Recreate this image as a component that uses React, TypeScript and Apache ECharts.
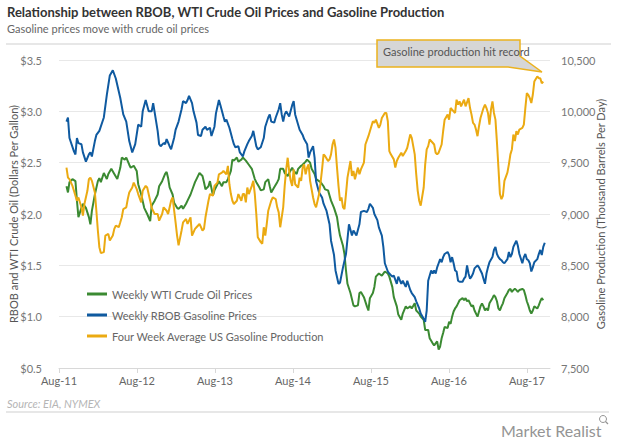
import React, { useEffect, useRef } from "react";
import * as echarts from "echarts";

// x = weeks since August 2011
const tickLabels = ["Aug-11", "Aug-12", "Aug-13", "Aug-14", "Aug-15", "Aug-16", "Aug-17"];
const weeksPerYear = 52.18;

const wtiPoints: [number, number][] = [[5,2.27],[6,2.21],[7,2.31],[9,2.34],[11,2.32],[12,2.13],[13,1.97],[15,2.06],[16,2.10],[18,2.06],[20,1.97],[21,1.90],[22,2.03],[24,2.19],[26,2.32],[27,2.35],[28,2.31],[30,2.40],[32,2.34],[33,2.39],[35,2.44],[37,2.39],[39,2.34],[41,2.45],[42,2.55],[44,2.53],[45,2.55],[47,2.48],[48,2.45],[50,2.47],[52,2.42],[53,2.29],[55,2.19],[57,2.06],[59,2.00],[61,1.93],[62,2.08],[64,2.13],[66,2.19],[67,2.27],[69,2.32],[71,2.39],[72,2.41],[73,2.35],[74,2.26],[76,2.19],[77,2.11],[79,2.06],[80,2.05],[82,2.08],[83,2.05],[85,2.10],[86,2.13],[88,2.19],[90,2.27],[91,2.31],[92,2.34],[94,2.40],[96,2.37],[97,2.31],[98,2.24],[100,2.27],[101,2.32],[103,2.18],[104,2.23],[106,2.29],[107,2.32],[109,2.27],[110,2.31],[112,2.31],[113,2.34],[115,2.42],[116,2.53],[117,2.52],[119,2.55],[120,2.51],[122,2.53],[123,2.55],[125,2.52],[127,2.48],[129,2.44],[131,2.34],[132,2.31],[134,2.26],[135,2.23],[137,2.24],[138,2.31],[140,2.34],[141,2.27],[142,2.21],[144,2.26],[146,2.31],[147,2.34],[148,2.44],[150,2.44],[151,2.40],[153,2.37],[154,2.40],[156,2.45],[157,2.42],[159,2.39],[160,2.44],[162,2.47],[163,2.48],[165,2.51],[166,2.53],[168,2.50],[169,2.44],[171,2.39],[172,2.34],[174,2.32],[175,2.31],[177,2.27],[178,2.24],[180,2.23],[181,2.18],[182,2.13],[184,2.06],[186,1.97],[187,1.87],[188,1.79],[190,1.69],[191,1.61],[192,1.45],[193,1.32],[195,1.23],[197,1.11],[198,1.10],[200,1.11],[201,1.23],[202,1.24],[204,1.19],[206,1.10],[207,1.06],[208,1.18],[210,1.23],[211,1.29],[212,1.39],[214,1.42],[216,1.40],[217,1.42],[218,1.44],[220,1.42],[221,1.39],[223,1.29],[224,1.19],[226,1.10],[227,1.02],[229,0.97],[230,1.03],[232,1.10],[233,1.08],[235,1.10],[236,1.08],[238,1.13],[239,1.06],[241,1.03],[242,1.00],[244,0.97],[245,0.87],[247,0.87],[248,0.79],[250,0.74],[251,0.72],[253,0.76],[254,0.68],[255,0.71],[256,0.79],[257,0.84],[258,0.90],[260,0.89],[261,0.95],[262,0.93],[263,1.00],[264,1.05],[265,1.08],[266,1.10],[267,1.13],[268,1.16],[270,1.18],[271,1.16],[272,1.18],[273,1.15],[274,1.16],[275,1.13],[276,1.10],[277,1.11],[278,1.06],[280,1.00],[281,1.05],[282,1.10],[283,1.13],[284,1.10],[285,1.06],[286,1.08],[287,1.06],[288,1.13],[290,1.18],[291,1.21],[292,1.19],[293,1.15],[294,1.08],[295,1.06],[296,1.10],[297,1.13],[298,1.18],[300,1.23],[301,1.26],[302,1.27],[303,1.24],[304,1.26],[305,1.27],[306,1.26],[307,1.24],[308,1.26],[310,1.27],[311,1.26],[312,1.21],[313,1.15],[314,1.11],[315,1.06],[316,1.03],[317,1.06],[318,1.10],[320,1.08],[321,1.11],[322,1.15],[323,1.18],[324,1.16]];

const rbobPoints: [number, number][] = [[5,2.90],[6,2.94],[7,2.74],[10,2.61],[11,2.58],[12,2.74],[13,2.69],[15,2.68],[16,2.60],[18,2.51],[20,2.58],[21,2.60],[22,2.56],[24,2.71],[25,2.77],[27,2.81],[30,2.94],[32,3.16],[34,3.35],[36,3.40],[38,3.32],[41,3.13],[43,2.97],[45,2.90],[47,2.71],[49,2.60],[51,2.68],[53,2.87],[55,2.85],[56,3.00],[58,3.11],[60,3.00],[62,3.00],[63,3.08],[65,2.90],[66,2.81],[67,2.68],[68,2.66],[70,2.69],[71,2.68],[72,2.73],[74,2.66],[75,2.63],[77,2.74],[78,2.82],[80,2.90],[82,3.02],[83,3.10],[85,3.08],[86,3.11],[87,3.15],[89,3.08],[90,3.00],[92,2.89],[93,2.77],[95,2.76],[96,2.82],[98,2.85],[99,2.82],[101,2.84],[102,2.76],[104,2.85],[105,2.98],[107,3.11],[108,3.06],[110,2.95],[111,2.90],[112,2.92],[114,2.84],[116,2.73],[117,2.68],[118,2.65],[120,2.66],[121,2.60],[123,2.56],[124,2.61],[126,2.68],[127,2.71],[129,2.76],[130,2.81],[132,2.66],[133,2.63],[135,2.65],[137,2.74],[138,2.85],[140,2.94],[141,2.97],[142,2.90],[144,2.89],[145,2.94],[147,3.02],[148,3.08],[149,2.97],[150,2.90],[151,2.97],[152,3.00],[154,2.95],[156,3.06],[157,3.10],[158,2.97],[160,2.87],[161,2.82],[163,2.77],[164,2.73],[166,2.68],[167,2.55],[168,2.60],[170,2.66],[171,2.55],[172,2.32],[174,2.21],[176,2.16],[177,2.10],[179,2.03],[181,1.90],[182,1.74],[184,1.60],[185,1.45],[187,1.32],[188,1.33],[190,1.48],[192,1.61],[194,1.90],[196,1.79],[197,1.84],[199,1.79],[201,1.90],[202,2.02],[204,2.03],[206,2.02],[207,2.05],[208,2.10],[210,2.06],[211,2.00],[213,1.94],[214,1.87],[216,1.79],[217,1.68],[218,1.52],[220,1.44],[221,1.42],[223,1.39],[224,1.40],[226,1.32],[227,1.39],[229,1.32],[230,1.35],[232,1.29],[233,1.35],[235,1.26],[236,1.23],[238,1.19],[239,1.15],[241,1.08],[242,1.03],[244,0.98],[245,0.95],[246,1.06],[247,1.35],[249,1.45],[250,1.42],[251,1.45],[252,1.42],[253,1.48],[254,1.52],[255,1.56],[256,1.53],[257,1.58],[258,1.61],[260,1.63],[261,1.60],[262,1.53],[263,1.58],[264,1.52],[265,1.45],[266,1.44],[267,1.35],[268,1.34],[270,1.34],[271,1.37],[272,1.39],[273,1.50],[274,1.42],[275,1.37],[276,1.39],[277,1.42],[278,1.47],[280,1.50],[281,1.48],[282,1.45],[283,1.42],[284,1.37],[285,1.32],[286,1.42],[287,1.48],[288,1.53],[290,1.58],[291,1.65],[292,1.68],[293,1.61],[294,1.58],[295,1.56],[296,1.55],[297,1.53],[298,1.52],[300,1.56],[301,1.63],[302,1.58],[303,1.61],[304,1.68],[305,1.71],[306,1.74],[307,1.69],[308,1.61],[310,1.52],[311,1.58],[312,1.61],[313,1.56],[314,1.55],[315,1.52],[316,1.44],[317,1.48],[318,1.53],[320,1.56],[321,1.61],[322,1.65],[323,1.60],[324,1.68],[325,1.72]];

const productionPoints: [number, number][] = [[5,9452],[6,9355],[7,9339],[9,9274],[10,9226],[12,9129],[13,9161],[15,9065],[16,8984],[17,9097],[19,9226],[20,9339],[21,9355],[22,9323],[24,9210],[25,9032],[26,8839],[27,8677],[28,8619],[30,8629],[31,8790],[33,8806],[34,8742],[36,8790],[37,8855],[38,8887],[40,8871],[41,8919],[42,8968],[43,9048],[45,9065],[46,9145],[47,9210],[49,9258],[50,9306],[52,9242],[53,9194],[55,9113],[56,9226],[58,9274],[59,9258],[61,9130],[62,9060],[64,9000],[66,9000],[67,8935],[69,9000],[70,9065],[72,9032],[73,9000],[75,9129],[76,9161],[78,8919],[79,8790],[80,8694],[82,8839],[83,8919],[85,8952],[86,8903],[88,8968],[89,8790],[91,8855],[92,8871],[94,8903],[96,8839],[97,8855],[98,8968],[100,9129],[101,9194],[103,9178],[104,9274],[106,9306],[107,9387],[109,9403],[110,9419],[112,9387],[113,9468],[114,9290],[115,9194],[116,9129],[117,9097],[119,9129],[120,9194],[122,9129],[123,9194],[124,9194],[125,9113],[126,9258],[127,9194],[129,9274],[130,9323],[131,9194],[132,9000],[133,8774],[135,8726],[136,8710],[137,8871],[138,8790],[139,8903],[140,9032],[142,9129],[143,9161],[145,9145],[146,9065],[147,9016],[148,8871],[150,9065],[151,9274],[152,9435],[153,9548],[154,9419],[155,9323],[156,9274],[157,9435],[158,9290],[160,9258],[161,9355],[162,9323],[163,9452],[164,9484],[165,9387],[166,9452],[167,9484],[168,9323],[170,9161],[171,9097],[172,9065],[173,9129],[174,9194],[175,9306],[176,9435],[177,9581],[178,9565],[180,9516],[181,9532],[182,9581],[183,9677],[184,9726],[185,9645],[186,9452],[187,9274],[188,9129],[189,9161],[190,9065],[191,9048],[192,9194],[193,9355],[195,9516],[196,9371],[197,9419],[198,9339],[200,9452],[201,9387],[202,9435],[204,9500],[205,9677],[207,9758],[208,9806],[210,9903],[211,9887],[212,9919],[214,9839],[215,9871],[216,9935],[218,9984],[219,9984],[220,9903],[221,9613],[222,9581],[224,9532],[225,9452],[226,9516],[227,9548],[229,9597],[230,9565],[232,9613],[233,9645],[235,9774],[236,9742],[238,9581],[239,9387],[240,9226],[241,9129],[242,9081],[244,9258],[245,9484],[246,9629],[247,9661],[248,9726],[250,9694],[251,9677],[252,9597],[253,9581],[254,9597],[256,9677],[257,9806],[258,9919],[260,9968],[261,9919],[262,10032],[264,10000],[265,9984],[266,10113],[267,10065],[268,10097],[269,10048],[270,10081],[271,10113],[272,10048],[274,10129],[275,10032],[276,9968],[277,9887],[278,9871],[279,9823],[280,9758],[281,9855],[282,9935],[284,10032],[285,10065],[286,10032],[287,9984],[288,9871],[289,10016],[290,10097],[291,9984],[292,9919],[293,9700],[294,9450],[295,9194],[296,9145],[297,9178],[298,9323],[300,9403],[301,9484],[302,9581],[303,9629],[304,9774],[305,9710],[306,9806],[307,9774],[308,9823],[310,9839],[311,9871],[312,10032],[313,10177],[314,10161],[315,10129],[316,10081],[317,10161],[318,10290],[320,10339],[321,10323],[322,10323],[323,10274],[324,10290]];

const seriesNames = ["Weekly WTI Crude Oil Prices", "Weekly RBOB Gasoline Prices", "Four Week Average US Gasoline Production"];
const seriesColors = ["#3b8a32", "#0f5aa0", "#ebaa12"];

const FONT = "Lato, 'Open Sans', sans-serif";

export default function App() {
  const ref = useRef<HTMLDivElement>(null);
  useEffect(() => {
    if (!ref.current) return;
    const chart = echarts.init(ref.current, undefined, { renderer: "svg" });
    const tickValues = tickLabels.map((_, i) => i * weeksPerYear);
    chart.setOption({
      animation: false,
      backgroundColor: "#ffffff",
      textStyle: { fontFamily: FONT },
      grid: { left: 59, right: 70, top: 60, bottom: 76, containLabel: false, outerBoundsMode: "none" },
      legend: {
        orient: "vertical",
        left: 82,
        top: 282,
        itemWidth: 20,
        itemHeight: 3,
        itemGap: 7,
        icon: "rect",
        textStyle: { color: "#666", fontSize: 11, fontFamily: FONT, lineHeight: 14 },
        data: seriesNames,
      },
      xAxis: {
        type: "value",
        min: 0,
        max: 328.5,
        axisLine: { show: true, lineStyle: { color: "#d8d8d8" } },
        axisTick: { show: true, length: 5, lineStyle: { color: "#d8d8d8" }, customValues: tickValues },
        splitLine: { show: false },
        axisLabel: {
          customValues: tickValues,
          color: "#666",
          fontSize: 11,
          margin: 7,
          formatter: (v: number) => {
            const i = Math.round(v / weeksPerYear);
            return Math.abs(v - i * weeksPerYear) < 0.5 ? tickLabels[i] ?? "" : "";
          },
        },
      },
      yAxis: [
        {
          type: "value",
          min: 0.5,
          max: 3.5,
          interval: 0.5,
          name: "RBOB and WTI Crude Oil (Dollars Per Gallon)",
          nameLocation: "middle",
          nameGap: 40,
          nameMoveOverlap: false,
          nameTextStyle: { color: "#555", fontSize: 11 },
          axisLine: { show: false },
          axisTick: { show: false },
          splitLine: { show: true, lineStyle: { color: "#e8e8e8" } },
          axisLabel: { color: "#777", fontSize: 11, margin: 17, formatter: (v: number) => "$" + v.toFixed(1) },
        },
        {
          type: "value",
          min: 7500,
          max: 10500,
          interval: 500,
          name: "Gasoline Production (Thousand Barrels Per Day)",
          nameLocation: "middle",
          nameGap: 45,
          nameRotate: 90,
          nameMoveOverlap: false,
          nameTextStyle: { color: "#555", fontSize: 11 },
          axisLine: { show: false },
          axisTick: { show: false },
          splitLine: { show: false },
          axisLabel: { color: "#777", fontSize: 11, margin: 11, formatter: (v: number) => v.toLocaleString("en-US") },
        },
      ],
      series: [
        { name: seriesNames[0], type: "line", yAxisIndex: 0, data: wtiPoints, showSymbol: false, lineStyle: { width: 2, color: seriesColors[0] }, itemStyle: { color: seriesColors[0] } },
        { name: seriesNames[1], type: "line", yAxisIndex: 0, data: rbobPoints, showSymbol: false, lineStyle: { width: 2, color: seriesColors[1] }, itemStyle: { color: seriesColors[1] } },
        { name: seriesNames[2], type: "line", yAxisIndex: 1, data: productionPoints, showSymbol: false, lineStyle: { width: 2, color: seriesColors[2] }, itemStyle: { color: seriesColors[2] } },
      ],
      graphic: [
        { type: "text", left: 7, top: 5, style: { text: "Relationship between RBOB, WTI Crude Oil Prices and Gasoline Production", fill: "#333", font: "bold 13px " + FONT } },
        { type: "text", left: 7, top: 23, style: { text: "Gasoline prices move with crude oil prices", fill: "#666", font: "11px " + FONT } },
        { type: "line", shape: { x1: 6, y1: 44, x2: 611, y2: 44 }, style: { stroke: "#cfcfcf", lineWidth: 1 } },
        {
          type: "polygon",
          shape: { points: [[377, 40], [520, 40], [520, 56], [542, 72], [508, 67], [377, 67]] },
          style: { fill: "#d6d6d6", stroke: "#ecb21e", lineWidth: 1.5 },
          z: 100,
        },
        { type: "text", left: 383, top: 46, z: 101, style: { text: "Gasoline production hit record", fill: "#555", font: "11px " + FONT } },
        { type: "text", left: 7, top: 398, style: { text: "Source: EIA, NYMEX", fill: "#b5b5b5", font: "italic 11px " + FONT } },
        { type: "line", shape: { x1: 6, y1: 412, x2: 609, y2: 412 }, style: { stroke: "#cfcfcf", lineWidth: 1 } },
        { type: "text", left: 501, top: 422, style: { text: "Market Realist", fill: "#949494", font: "16px " + FONT } },
        { type: "circle", shape: { cx: 603, cy: 419, r: 3.5 }, style: { fill: "none", stroke: "#949494", lineWidth: 1 } },
        { type: "line", shape: { x1: 605.5, y1: 421.5, x2: 608, y2: 424 }, style: { stroke: "#949494", lineWidth: 1.2 } },
      ],
    });
    return () => chart.dispose();
  }, []);
  return <div ref={ref} style={{ position: "fixed", left: 0, top: 0, width: 620, height: 444 }} />;
}
